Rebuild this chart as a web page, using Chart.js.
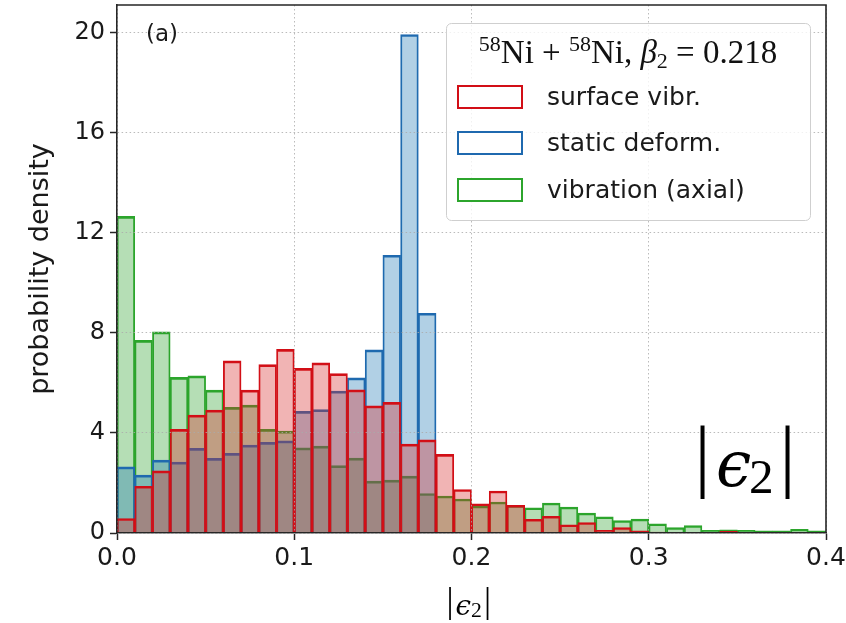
<!DOCTYPE html>
<html lang="en">
<head>
<meta charset="UTF-8">
<title>|eps2| distribution</title>
<script src="https://cdn.jsdelivr.net/npm/chart.js"></script>
<style>
  html, body { margin: 0; padding: 0; background: #fff; }
  #wrap { width: 846px; height: 623px; }
</style>
</head>
<body>
<div id="wrap"><canvas id="histChart" width="846" height="623"></canvas></div>
<script>
// histogram bins (centres, width 0.01)
const binCenters = [0.005, 0.015, 0.025, 0.035, 0.045, 0.055, 0.065, 0.075, 0.085, 0.095,
                    0.105, 0.115, 0.125, 0.135, 0.145, 0.155, 0.165, 0.175, 0.185, 0.195,
                    0.205, 0.215, 0.225, 0.235, 0.245, 0.255, 0.265, 0.275, 0.285, 0.295,
                    0.305, 0.315, 0.325, 0.335, 0.345, 0.355, 0.365, 0.375, 0.385, 0.395];

const seriesLabels = ['surface vibr.', 'static deform.', 'vibration (axial)'];

const surfaceVibr = [0.58, 1.87, 2.48, 4.14, 4.71, 4.91, 6.88, 5.71, 6.73, 7.34,
                     6.58, 6.80, 6.37, 5.72, 5.08, 5.22, 3.55, 3.72, 3.14, 1.74,
                     1.17, 1.68, 1.11, 0.55, 0.67, 0.33, 0.42, 0.11, 0.22, 0.09,
                     0.04, 0.02, 0.02, 0.02, 0.07, 0.01, 0.01, 0.01, 0.01, 0.01];

const staticDeform = [2.64, 2.31, 2.91, 2.83, 3.38, 2.98, 3.18, 3.51, 3.62, 3.68,
                      4.86, 4.93, 5.67, 6.20, 7.32, 11.10, 19.92, 8.78, 0, 0,
                      0, 0, 0, 0, 0, 0, 0, 0, 0, 0,
                      0, 0, 0, 0, 0, 0, 0, 0, 0, 0];

const vibrAxial = [12.65, 7.70, 8.04, 6.22, 6.28, 5.71, 5.02, 5.11, 4.14, 4.07,
                   3.40, 3.47, 2.69, 2.99, 2.07, 2.11, 2.27, 1.58, 1.48, 1.36,
                   1.08, 1.24, 1.10, 1.01, 1.20, 1.04, 0.80, 0.65, 0.50, 0.56,
                   0.37, 0.22, 0.30, 0.11, 0.13, 0.11, 0.09, 0.09, 0.15, 0.09];

const xTicks = [0, 0.1, 0.2, 0.3, 0.4];
const yTicks = [0, 4, 8, 12, 16, 20];

const textColor = '#1a1a1a';
const axisColor = '#262626';
const gridColor = 'rgba(170,170,170,0.8)';
const serif = '"Liberation Serif", "DejaVu Serif", serif';

Chart.defaults.font.family = '"DejaVu Sans", sans-serif';

function toPoints(vals) {
  return binCenters.map((c, i) => ({ x: c, y: vals[i] }));
}

// red drawn on top, green at the bottom (dataset 0 is painted last)
const datasets = [
  { label: seriesLabels[0], data: toPoints(surfaceVibr), backgroundColor: 'rgba(214,39,40,0.35)', borderColor: 'rgb(210,14,22)' },
  { label: seriesLabels[1], data: toPoints(staticDeform), backgroundColor: 'rgba(31,119,180,0.35)', borderColor: 'rgb(31,105,175)' },
  { label: seriesLabels[2], data: toPoints(vibrAxial), backgroundColor: 'rgba(44,160,44,0.35)', borderColor: 'rgb(44,165,44)' }
].map(d => Object.assign(d, {
  borderWidth: { top: 2, left: 1.2, right: 1.2, bottom: 0 },
  borderSkipped: false,
  barPercentage: 1,
  categoryPercentage: 1,
  grouped: false
}));

// scale a glyph so its ink box has the wanted height, then place it
function placeGlyph(ctx, ch, fontOf, inkLeft, inkBottom, inkHeight, centerX) {
  ctx.font = fontOf(100);
  let m = ctx.measureText(ch);
  const size = 100 * inkHeight / (m.actualBoundingBoxAscent + m.actualBoundingBoxDescent);
  ctx.font = fontOf(size);
  m = ctx.measureText(ch);
  const w = m.actualBoundingBoxLeft + m.actualBoundingBoxRight;
  const left = centerX != null ? centerX - w / 2 : inkLeft;
  ctx.fillText(ch, left + m.actualBoundingBoxLeft, inkBottom - m.actualBoundingBoxDescent);
}

// |eps_2| : x0 = left bar, y0 = top of bars, s = scale (1 -> bars 73px tall)
function drawAbsEps(ctx, x0, y0, s) {
  ctx.save();
  ctx.fillStyle = '#000';
  ctx.textAlign = 'left';
  ctx.textBaseline = 'alphabetic';
  const up = n => `${n}px ${serif}`;
  const eps = n => `italic ${n}px "DejaVu Serif"`;
  placeGlyph(ctx, '|', up, 0, y0 + 73 * s, 73 * s, x0);
  placeGlyph(ctx, '\u03f5', eps, x0 + 15 * s, y0 + 61 * s, 34 * s);
  placeGlyph(ctx, '2', up, x0 + 48 * s, y0 + 67 * s, 33 * s);
  placeGlyph(ctx, '|', up, 0, y0 + 73 * s, 73 * s, x0 + 85 * s);
  ctx.restore();
}

// run of text pieces with their own font and vertical shift
function drawRuns(ctx, runs, cx, baseline) {
  let total = 0;
  runs.forEach(r => { ctx.font = r.font; r.w = ctx.measureText(r.t).width; total += r.w; });
  let x = cx - total / 2;
  runs.forEach(r => { ctx.font = r.font; ctx.fillText(r.t, x, baseline + (r.dy || 0)); x += r.w; });
}

function roundRect(ctx, x, y, w, h, r) {
  ctx.beginPath();
  ctx.moveTo(x + r, y);
  ctx.arcTo(x + w, y, x + w, y + h, r);
  ctx.arcTo(x + w, y + h, x, y + h, r);
  ctx.arcTo(x, y + h, x, y, r);
  ctx.arcTo(x, y, x + w, y, r);
  ctx.closePath();
}

const decorPlugin = {
  id: 'decor',
  afterDraw(chart) {
    const { ctx, chartArea: a } = chart;
    ctx.save();

    // top / right spines
    ctx.strokeStyle = axisColor;
    ctx.lineWidth = 1.6;
    ctx.beginPath();
    ctx.moveTo(a.left, a.top);
    ctx.lineTo(a.right, a.top);
    ctx.lineTo(a.right, a.bottom);
    ctx.stroke();

    // panel tag
    ctx.fillStyle = textColor;
    ctx.font = '23px "DejaVu Sans"';
    ctx.textAlign = 'left';
    ctx.textBaseline = 'middle';
    ctx.fillText('(a)', 146, 35);

    // big annotation and x axis label
    drawAbsEps(ctx, 703, 426, 1);
    drawAbsEps(ctx, 450, 588, 0.44);

    // legend
    ctx.fillStyle = 'rgba(255,255,255,0.8)';
    roundRect(ctx, 446.5, 23.5, 364, 197, 5);
    ctx.fill();
    ctx.strokeStyle = '#cfcfcf';
    ctx.lineWidth = 1;
    ctx.stroke();

    ctx.fillStyle = '#111';
    ctx.textAlign = 'left';
    ctx.textBaseline = 'alphabetic';
    const big = `33px ${serif}`, small = `22px ${serif}`;
    drawRuns(ctx, [
      { t: '58', font: small, dy: -12 },
      { t: 'Ni + ', font: big },
      { t: '58', font: small, dy: -12 },
      { t: 'Ni, ', font: big },
      { t: '\u03b2', font: `italic 33px ${serif}` },
      { t: '2', font: small, dy: 5 },
      { t: ' = 0.218', font: big }
    ], 628, 63);

    const patchColors = datasets.map(d => d.borderColor);
    const rowY = [97, 143, 190];
    seriesLabels.forEach((lab, i) => {
      ctx.fillStyle = '#fff';
      ctx.fillRect(458, rowY[i] - 11, 64, 22);
      ctx.strokeStyle = patchColors[i];
      ctx.lineWidth = 2;
      ctx.strokeRect(458, rowY[i] - 11, 64, 22);
      ctx.fillStyle = textColor;
      ctx.font = '25px "DejaVu Sans"';
      ctx.textBaseline = 'middle';
      ctx.fillText(lab, 547, rowY[i] + 1);
    });

    ctx.restore();
  }
};

new Chart(document.getElementById('histChart'), {
  type: 'bar',
  data: { datasets: datasets },
  options: {
    responsive: false,
    animation: false,
    layout: { padding: { top: 5, right: 20, left: 0, bottom: 0 } },
    plugins: { legend: { display: false }, tooltip: { enabled: false } },
    scales: {
      x: {
        type: 'linear',
        min: 0,
        max: 0.4,
        offset: false,
        grid: { offset: false, color: gridColor, lineWidth: 1, z: 1, tickLength: 7, tickColor: axisColor, tickWidth: 1.5 },
        border: { color: axisColor, width: 1.6, dash: [1.5, 2.5], z: 1 },
        ticks: { color: textColor, font: { size: 25 }, padding: 3, maxRotation: 0, autoSkip: false,
                 callback: v => v.toFixed(1) },
        afterBuildTicks: s => { s.ticks = xTicks.map(v => ({ value: v })); },
        afterFit: s => { s.height = 90; s.paddingLeft = 0; s.paddingRight = 0; }
      },
      y: {
        min: 0,
        max: 21.1,
        grid: { color: gridColor, lineWidth: 1, z: 1, tickLength: 7, tickColor: axisColor, tickWidth: 1.5 },
        border: { color: axisColor, width: 1.6, dash: [1.5, 2.5], z: 1 },
        ticks: { color: textColor, font: { size: 24 }, padding: 5, includeBounds: false,
                 callback: v => String(v) },
        title: { display: true, text: 'probability density', color: textColor,
                 font: { size: 27 }, padding: { top: 25, bottom: 0 } },
        afterBuildTicks: s => { s.ticks = yTicks.map(v => ({ value: v })); },
        afterFit: s => { s.width = 117; s.paddingTop = 0; s.paddingBottom = 0; }
      }
    }
  },
  plugins: [decorPlugin]
});
</script>
</body>
</html>
